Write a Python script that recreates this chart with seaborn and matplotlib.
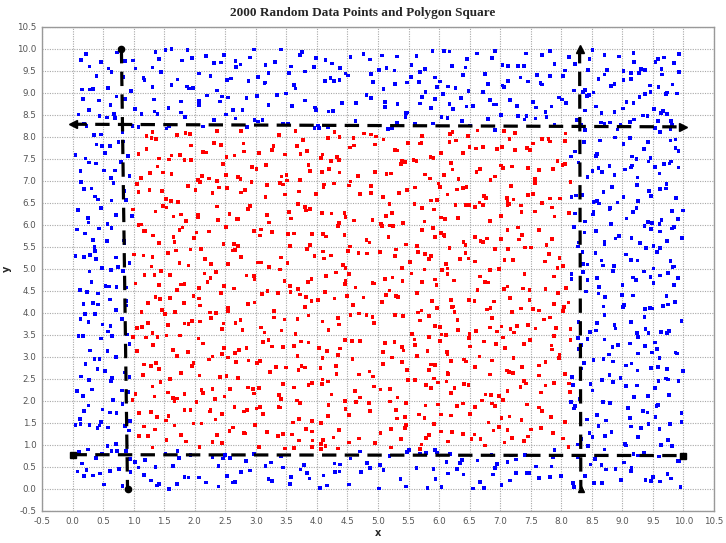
import numpy as np
import pandas as pd
import matplotlib
matplotlib.use("Agg")
import matplotlib.pyplot as plt
from matplotlib.path import Path
import seaborn as sns

title = "2000 Random Data Points and Polygon Square"

# point x positions (hundredths of a unit)
x_hund = [
537,82,914,263,748,405,691,19,356,873,128,640,995,472,207,819,563,
34,702,291,947,158,615,388,76,854,430,239,781,509,962,117,674,345,
898,52,726,183,591,417,839,266,8,655,974,321,487,142,763,604,95,
938,373,219,800,546,61,688,452,915,190,327,744,581,23,867,411,138,
629,980,276,502,716,45,358,889,171,594,437,821,253,667,108,950,384,
712,305,48,866,593,174,429,981,250,637,11,784,362,519,903,87,246,
675,438,152,827,569,993,316,64,741,208,482,855,131,597,379,926,25,
663,414,787,239,551,102,918,348,695,471,38,812,284,579,136,960,407,
726,193,848,521,73,634,297,906,455,164,789,341,612,57,935,258,503,
871,119,686,392,15,547,229,759,434,991,172,618,325,844,94,569,718,
263,851,407,92,639,978,154,521,336,707,44,882,469,198,615,930,283,
571,117,746,392,833,28,658,245,961,504,371,86,719,436,177,592,904,
318,653,41,787,229,546,872,135,410,698,963,257,584,13,739,382,926,
167,495,621,803,58,344,975,211,689,452,124,767,538,299,846,71,603,
427,914,186,750,359,5,668,281,827,544,109,943,393,712,236,579,861,
94,447,816,603,225,958,371,692,138,529,880,47,764,312,576,203,941,
659,418,82,735,286,997,167,544,823,361,19,687,453,909,234,578,128,
806,372,651,49,913,265,487,744,153,620,301,868,531,72,956,407,193,
715,639,281,842,26,567,340,997,464,109,783,226,598,873,337,61,702,
485,934,157,629,392,821,245,546,12,768,419,954,183,681,307,858,520,
648,229,975,103,587,341,813,462,17,739,295,924,156,670,408,851,63,
532,287,976,144,705,386,619,32,867,249,493,788,171,953,424,612,91,
345,830,211,698,549,7,906,367,742,183,625,471,992,258,579,134,814,
409,66,733,297,885,520,172,641,338,959,81,774,446,213,598,919,362,
27,685,504,848,233,131,767,418,942,305,561,98,819,676,392,164,712,
381,906,53,722,469,195,837,614,288,971,142,508,763,36,659,323,885,
241,584,117,796,432,947,268,65,711,523,375,879,198,641,14,958,486,
307,832,159,593,721,44,370,915,252,687,128,806,539,271,973,409,86,
644,349,818,587,223,999,115,458,736,302,897,178,619,41,764,492,255,
925,137,683,406,853,592,21,714,333,961,208,547,774,93,431,869,615,
827,164,539,312,987,65,708,446,229,893,581,139,651,374,926,47,785,
213,564,832,99,417,749,285,614,953,176,508,362,871,29,693,435,120,
957,601,266,788,345,512,71,843,189,674,403,926,245,561,815,106,739,
368,17,884,527,273,649,949,132,471,797,326,583,57,912,438,206,666,
784,321,989,154,542,93,705,878,248,457,613,10,937,386,171,829,560,
156,723,491,938,275,604,37,859,342,687,114,973,528,209,791,436,660,
81,365,914,583,245,728,13,847,469,190,631,997,308,556,782,124,419,
871,62,695,347,924,183,540,758,26,611,434,887,278,151,702,569,963,
386,49,815,227,650,493,105,936,314,772,593,20,857,409,683,131,541,
247,976,368,717,89,828,455,602,195,943,330,745,58,481,889,267,630,
459,872,113,690,336,945,207,571,788,24,623,402,168,917,298,754,533,
87,861,225,649,381,972,146,507,795,42,716,330,588,255,899,124,678,
413,967,61,803,529,182,734,310,658,901,235,476,18,840,597,143,763,
372,986,209,625,449,88,805,564,287,937,160,719,391,42,869,620,255,
513,975,136,684,357,812,71,429,903,243,565,748,198,621,34,948,382,
917,248,605,31,774,452,183,836,519,298,962,72,683,347,141,555,808,
226,491,935,12,667,385,712,159,843,576,264,991,103,431,748,297,624,
54,885,512,178,740,369,946,221,596,83,817,463,134,681,319,975,540,
207,788,446,63,922,356,614,171,859,493,28,737,285,572,900,145,663,
391,817,60,524,951,235,706,447,118,862,340,593,984,216,675,415,88,
352,780,129,617,914,48,503,276,836,193,659,423,982,71,741,309,565,
868,217,451,698,5,925,384,611,156,797,539,262,979,101,443,713,38,
856,322,587,939,175,648,410,803,29,552,266,951,131,707,482,843,210,
634,957,74,396,773,529,190,906,341,614,37,866,468,227,750,583,985,
116,692,304,835,447,19,962,255,577,721,169,886,412,643,93,528,794,
608,43,871,327,564,199,936,481,712,85,392,827,251,659,973,117,546,
308,785,20,643,434,894,167,572,998,264,729,353,84,519,951,203,678,
415,857,142,590,731,36,962,307,486,821,165,603,389,947,56,736,271,
525,889,119,672,410,981,247,609,764,33,454,838,180,593,929,297,668,
132,507,776,362,915,64,640,223,871,445,7,701,356,984,517,175,829,
177,659,942,382,25,714,505,853,269,627,97,389,948,572,205,813,461,
734,136,881,318,560,991,47,683,424,236,789,592,113,917,358,649,71,
839,287,523,964,148,701,436,9,603,862,257,491,785,322,981,165,644,
408,57,923,271,757,519,186,852,380,631,99,961,445,712,238,879,513,
26,672,354,907,154,576,823,291,447,999,108,735,369,610,880,205,541,
746,318,87,962,534,209,677,411,853,146,599,37,718,926,282,470,815,
153,639,399,972,64,547,824,236,711,489,108,892,345,614,971,42,757,
276,508,883,161,629,340,947,84,712,453,229,798,561,14,902,371,666,
189,835,428,597,31,754,293,988,126,673,412,859,240,535,782,67,944,
316,601,173,869,455,722,19,348,924,587,201,645,817,106,489,769,253,
294,925,563,148,802,372,619,51,887,436,705,223,968,514,79,661,342,
916,183,757,420,608,38,851,271,539,992,127,684,386,763,212,943,495,
63,828,301,577,719,158,467,904,246,632,13,879,521,194,746,351,980,
622,93,806,437,275,914,558,162,701,389,843,27,667,251,977,408,585,
139,794,350,861,205,538,961,70,423,692,317,867,544,112,786,236,953,
461,108,779,935,252,617,384,863,21,703,549,176,912,327,639,83,857,
495,214,769,591,48,942,373,660,129,816,280,531,979,407,61,744,305,
888,162,571,724,39,433,987,219,650,806,348,121,569,923,281,715,454,
5,837,603,194,946,377,528,754,91,672,418,859,243,992,137,586,329,
781,53,695,460,916,231,823,367,142,628,987,409,75,749,509,265,902,
833,276,614,47,958,403,729,185,561,892,311,647,23,776,429,913,154,
680,338,981,237,545,108,807,463,691,19,934,572,286,740,131,865,402,
618,56,979,353,497,826,213,663,941,82,531,396,758,171,897,304,622,
44,953,488,231,789,365,604,121,871,516,267,724,980,158,437,69,839,
590,192,743,418,962,298,651,35,880,523,184,706,345,919,477,98,637,
569,134,842,397,716,251,971,62,623,488,178,907,335,784,546,17,689,
263,928,441,113,801,587,349,966,207,656,72,774,512,901,285,139,617,
845,398,43,728,963,254,511,177,839,606,321,952,86,701,464,220,887,
381,645,10,796,532,278,937,157,683,426,808,245,973,359,593,102,754,
481,866,207,636,27,918,302,759,548,133,694,989,419,241,857,572,68,
314,760,28,593,881,145,672,437,959,207,528,803,96,745,381,627,914,
162,488,973,253,706,39,839,567,321,982,116,648,413,871,197,554,766,
34,927,288,615,451,836,172,704,993,365,548,83,821,259,680,447,131,
902,578,226,769,354,15,861,492,639,187,946,304,713,569,58,887,422,
237,675,945,118,509,782,316,853,64,597,428,914,191,733,362,965,601,
86,643,918,275,531,806,152,487,739,22,964,398,617,243,875,506,179,
729,341,958,103,662,425,813,268,589,47,937,372,704,196,851,514,290,
985,136,577,414,768,28,692,331,902,219,555,846,162,438,993,267,621,
73,789,455,930,188,646,316,871,527,99,742,395,968,231,608,844,142,
476,713,297,954,59,563,822,376,131,687,919,248,502,781,14,358,895,
]

# point y positions (hundredths of a unit)
y_hund = [
23,7,41,15,36,2,48,29,11,44,19,33,5,38,26,13,47,31,9,42,18,0,35,24,46,14,39,6,28,43,17,32,3,49,21,10,37,27,45,8,30,16,40,1,34,22,47,12,25,4,38,20,44,15,29,6,41,33,10,48,26,18,36,3,43,13,31,8,46,24,39,1,19,35,28,45,11,22,40,5,30,16,49,27,37,
62,95,80,54,89,71,58,97,77,66,84,51,93,75,60,87,69,99,56,81,73,91,64,52,86,78,96,59,68,94,83,55,76,90,65,98,72,53,88,61,79,92,57,85,70,96,63,82,50,74,91,67,77,56,94,86,59,80,99,69,52,88,75,62,97,83,71,54,90,66,78,95,58,84,73,51,92,64,87,79,60,98,68,81,76,
140,118,103,133,125,147,111,136,121,106,144,129,115,149,108,138,126,101,142,119,131,113,146,124,105,137,128,110,143,116,134,122,148,102,130,114,139,127,107,145,120,135,112,141,100,132,123,147,109,136,118,144,104,129,115,140,125,111,149,133,106,121,138,114,146,127,103,131,117,142,108,135,124,145,113,128,101,139,120,148,110,134,122,116,143,
155,182,197,169,176,191,159,188,164,179,195,152,185,171,161,198,174,187,166,193,157,180,172,199,163,189,151,177,194,168,184,158,190,175,153,196,170,181,162,186,178,192,156,167,183,197,160,173,188,150,179,165,194,176,158,190,169,185,153,198,172,163,181,192,156,187,174,161,195,178,166,189,154,183,170,196,159,177,191,164,180,151,186,168,199,
237,227,249,216,230,205,240,222,211,245,228,235,219,201,239,224,246,208,231,213,243,203,236,218,226,248,210,233,241,206,229,215,244,220,238,204,225,212,247,222,234,201,240,216,230,208,245,227,237,210,221,249,203,232,217,243,228,206,239,214,246,224,235,200,218,242,209,231,247,213,226,238,205,233,219,244,211,229,248,202,236,215,241,207,223,
276,281,268,298,260,279,287,264,292,251,273,284,258,295,278,266,290,254,271,283,297,262,275,288,252,269,299,280,259,286,294,256,277,267,291,274,250,282,263,296,270,285,257,292,279,261,288,253,272,298,265,290,276,255,283,294,268,259,296,278,286,252,264,291,273,281,256,299,269,287,260,275,293,251,284,266,277,297,258,271,289,254,280,295,262,
343,316,322,334,310,348,320,339,301,328,313,345,324,335,308,342,317,331,303,327,346,314,338,321,306,333,349,311,325,340,315,329,304,344,318,336,309,347,323,332,300,341,312,335,320,345,307,327,339,314,330,302,348,322,334,316,343,310,328,337,305,324,346,313,331,319,342,301,326,338,308,349,315,329,344,306,321,336,311,347,325,333,303,318,340,
372,356,391,363,384,351,398,377,360,389,368,355,395,381,366,374,359,387,352,379,393,364,370,386,357,399,375,361,382,367,353,390,378,362,396,371,358,385,354,376,392,365,380,350,388,373,361,397,369,383,357,394,374,363,389,352,378,366,391,356,385,371,398,360,381,367,354,393,376,359,387,364,351,379,395,368,382,355,390,373,358,396,365,377,384,
418,437,402,426,445,411,433,406,421,448,415,429,403,440,424,409,436,417,444,401,430,413,439,407,425,446,419,434,404,428,412,441,422,408,447,416,431,405,438,423,410,443,427,414,400,435,420,449,411,432,406,442,425,417,403,439,428,413,446,421,409,434,402,427,444,415,430,405,441,419,436,412,448,424,407,433,418,445,401,429,438,414,422,410,437,
481,462,497,470,455,488,466,493,451,476,485,459,498,473,464,490,457,479,468,494,453,483,471,460,487,475,499,456,480,467,492,452,484,474,461,496,477,465,489,454,482,470,463,495,478,458,486,469,450,491,472,457,483,466,498,475,461,488,453,479,467,494,456,485,470,463,496,452,477,489,460,481,468,493,455,473,486,459,499,476,464,490,471,484,458,
513,534,506,547,521,502,539,528,511,544,517,531,504,526,549,515,538,508,523,541,500,530,519,545,512,536,525,503,542,518,533,509,546,522,537,505,529,548,514,524,540,507,532,516,543,501,527,520,535,510,546,523,538,504,529,517,544,508,533,526,501,541,519,536,512,549,522,506,531,545,515,539,503,527,548,511,534,520,542,507,524,537,514,530,502,
577,592,561,584,553,570,597,566,588,558,579,551,595,573,563,586,556,590,568,581,554,598,575,562,589,571,557,594,580,565,599,552,583,569,574,587,559,593,567,550,585,576,560,596,572,582,555,591,564,578,553,597,569,586,561,580,592,557,574,589,566,551,583,594,572,559,587,563,576,598,555,581,570,593,562,585,556,577,590,568,552,596,573,588,560,
624,641,607,633,616,648,602,629,613,645,621,636,605,639,618,627,610,644,631,603,622,647,614,638,609,626,642,619,635,601,630,615,646,623,608,637,628,612,643,620,604,634,617,649,625,611,640,606,632,619,645,627,603,638,614,631,648,609,624,641,616,635,602,628,644,612,637,621,606,646,630,615,640,608,626,643,618,633,600,629,647,613,639,622,604,
668,691,657,682,673,698,661,686,652,677,694,665,689,654,679,670,697,659,684,671,693,656,680,667,699,662,688,675,651,692,669,683,658,696,674,663,687,655,681,695,666,678,653,690,672,660,685,697,664,676,651,689,668,694,657,683,671,698,662,680,666,692,655,685,673,660,696,678,664,687,653,675,699,658,682,669,691,656,679,686,663,693,672,650,684,
732,708,745,719,736,702,741,724,713,748,729,706,738,716,743,721,710,735,747,704,727,714,740,723,709,746,731,718,703,737,725,711,744,720,707,742,728,715,733,749,712,726,739,705,722,734,717,747,730,701,744,726,712,738,719,705,731,748,716,735,722,709,742,727,714,740,720,706,733,745,713,729,702,738,717,724,746,710,736,721,743,707,728,700,732,
781,762,796,773,755,789,768,792,751,777,786,759,798,771,764,790,757,783,766,795,753,779,788,761,774,797,756,785,769,792,752,780,775,763,799,758,787,770,783,754,794,765,778,791,760,772,785,750,767,796,776,759,789,764,781,752,793,770,785,757,777,798,761,782,768,795,754,779,790,763,773,797,756,786,767,780,751,792,775,760,788,771,794,758,784,
827,813,843,806,836,821,848,809,830,817,839,802,825,845,811,834,819,841,805,828,814,846,822,808,837,816,831,849,803,823,840,812,833,826,807,844,818,829,801,838,824,815,847,810,832,820,842,804,827,835,812,848,821,806,839,828,814,845,803,830,818,842,809,836,824,800,843,816,831,807,847,822,811,838,826,804,833,819,846,813,829,840,808,825,837,
876,858,893,867,884,851,898,872,863,889,856,880,895,869,854,886,874,861,891,877,853,885,866,899,859,882,870,892,857,879,865,888,852,875,896,862,883,871,855,890,868,881,860,897,873,864,887,850,878,894,857,883,869,851,890,875,862,898,866,884,859,877,892,853,871,887,864,880,896,855,872,889,861,878,893,867,856,885,874,899,858,881,869,891,852,
923,941,908,935,916,947,902,929,913,944,920,938,905,926,949,911,932,918,943,901,930,914,939,907,925,946,919,934,904,928,942,912,937,922,909,945,927,915,940,903,931,917,948,910,924,936,906,933,921,944,913,929,902,938,919,946,908,932,925,941,915,903,936,927,948,911,920,934,906,943,917,930,909,939,924,901,947,914,928,945,910,935,918,942,926,
972,958,991,965,983,951,997,976,961,988,955,980,994,969,953,985,974,962,999,977,956,990,967,982,959,995,971,952,986,964,979,998,957,981,968,993,954,975,987,960,996,970,950,984,963,978,1000,957,989,973,961,992,966,982,955,997,978,964,986,951,974,990,959,981,968,995,953,977,988,962,999,971,956,984,966,993,958,979,970,987,952,996,975,960,983,
]

# classification polygon (points inside drawn red)
poly_x = [0.98, 8.15, 8.15, 0.98]
poly_y = [0.90, 0.90, 8.15, 8.15]

# dashed boundary lines
left_x, left_y = [0.80, 0.90], [10.0, 0.0]
top_x, top_y = [0.0, 10.0], [8.29, 8.23]
right_x, right_y = [8.30, 8.32], [10.0, 0.0]
bottom_x, bottom_y = [0.0, 10.0], [0.78, 0.76]

tick_vals = [-0.5, 0.0, 0.5, 1.0, 1.5, 2.0, 2.5, 3.0, 3.5, 4.0, 4.5, 5.0,
             5.5, 6.0, 6.5, 7.0, 7.5, 8.0, 8.5, 9.0, 9.5, 10.0, 10.5]

n = min(len(x_hund), len(y_hund))
xs = np.array(x_hund[:n]) / 100.0
ys = np.array(y_hund[:n]) / 100.0
poly = Path(np.column_stack([poly_x, poly_y]))
inside = poly.contains_points(np.column_stack([xs, ys]))
df = pd.DataFrame({"x": xs, "y": ys, "inside": inside})

sns.set_style("white")
fig = plt.figure(figsize=(7.26, 5.43), dpi=100)
ax = fig.add_axes([42 / 726, 32 / 543, 672 / 726, 484 / 543])

sns.scatterplot(data=df, x="x", y="y", hue="inside",
                palette={True: "#ff0000", False: "#0000ff"},
                marker="s", s=7, linewidth=0, legend=False, ax=ax, zorder=2)

dash_kw = dict(color="black", lw=2.3, dashes=(4.5, 2.6), zorder=3, solid_capstyle="butt")
for lx, ly in [(left_x, left_y), (top_x, top_y), (right_x, right_y), (bottom_x, bottom_y)]:
    ax.plot(lx, ly, **dash_kw)

ax.plot(left_x, left_y, "o", color="black", ms=4.5, zorder=4)
ax.plot(top_x[0], top_y[0], "<", color="black", ms=6, zorder=4)
ax.plot(top_x[1], top_y[1], ">", color="black", ms=6, zorder=4)
ax.plot(right_x[0], right_y[0], "^", color="black", ms=6, zorder=4)
ax.plot(right_x[1], right_y[1], "^", color="black", ms=4, zorder=4)
ax.plot(bottom_x, bottom_y, "s", color="black", ms=4.5, zorder=4)

ax.set_xlim(-0.5, 10.5)
ax.set_ylim(-0.5, 10.5)
ax.set_xticks(tick_vals)
ax.set_yticks(tick_vals)
ax.set_xticklabels([f"{v:.1f}" for v in tick_vals])
ax.set_yticklabels([f"{v:.1f}" for v in tick_vals])
ax.tick_params(length=0, labelsize=6.3, labelcolor="#555555", pad=4)
ax.grid(True, color="#a8a8a8", linestyle=(0, (1, 1.2)), linewidth=0.8)
ax.set_axisbelow(True)
for sp in ax.spines.values():
    sp.set_color("#999999")
    sp.set_linewidth(1.0)

ax.set_xlabel("x", fontsize=7, fontweight="bold", labelpad=2)
ax.set_ylabel("y", fontsize=7, fontweight="bold", labelpad=4)
fig.text(0.5, 1 - 13 / 543, title, ha="center", va="center",
         fontsize=9.5, fontweight="bold", family="Liberation Serif")

fig.savefig("out.png", dpi=100, facecolor="white")
